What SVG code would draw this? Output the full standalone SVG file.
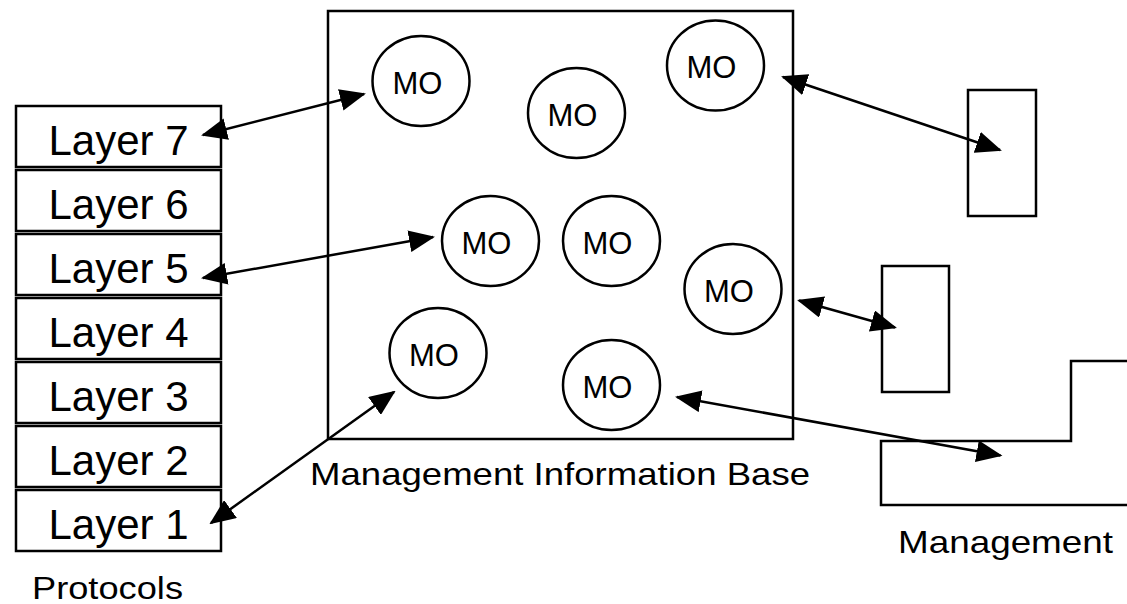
<svg xmlns="http://www.w3.org/2000/svg" width="1127" height="604" viewBox="0 0 1127 604">
<style>
.s{fill:#fff;stroke:#000;stroke-width:2.5}
.n{fill:none;stroke:#000;stroke-width:2.5}
.t{font-family:"Liberation Sans",Arial,sans-serif;fill:#000}
.lt{font-size:42px;text-anchor:middle}
.mo{font-size:31px;text-anchor:middle}
.lb{font-size:32px}
.c{fill:none;stroke:#000;stroke-width:2.5}
</style>
<defs>
<marker id="ah" markerUnits="userSpaceOnUse" markerWidth="26" markerHeight="22" viewBox="0 0 26 22" refX="24" refY="11" orient="auto-start-reverse">
<path d="M0,0 L26,11 L0,22 Z" fill="#000"/>
</marker>
</defs>
<rect width="1127" height="604" fill="#fff"/>
<g id="protocols">
<g id="layer7"><rect class="s" x="16" y="106" width="205" height="61"/><text class="t lt" x="118.5" y="155">Layer 7</text></g>
<g id="layer6"><rect class="s" x="16" y="170" width="205" height="61"/><text class="t lt" x="118.5" y="219">Layer 6</text></g>
<g id="layer5"><rect class="s" x="16" y="234" width="205" height="61"/><text class="t lt" x="118.5" y="283">Layer 5</text></g>
<g id="layer4"><rect class="s" x="16" y="298" width="205" height="61"/><text class="t lt" x="118.5" y="347">Layer 4</text></g>
<g id="layer3"><rect class="s" x="16" y="362" width="205" height="61"/><text class="t lt" x="118.5" y="411">Layer 3</text></g>
<g id="layer2"><rect class="s" x="16" y="426" width="205" height="61"/><text class="t lt" x="118.5" y="475">Layer 2</text></g>
<g id="layer1"><rect class="s" x="16" y="490" width="205" height="61"/><text class="t lt" x="118.5" y="539">Layer 1</text></g>
<text class="t lb" x="32" y="599" textLength="151" lengthAdjust="spacingAndGlyphs">Protocols</text>
</g>
<g id="mib">
<rect class="s" x="328" y="11" width="465" height="428"/>
<text class="t lb" x="310" y="485" textLength="500" lengthAdjust="spacingAndGlyphs">Management Information Base</text>
</g>
<g id="mo1"><ellipse class="s" cx="421" cy="81" rx="48.5" ry="45"/><text class="t mo" x="417.5" y="93.5">MO</text></g>
<g id="mo2"><ellipse class="s" cx="576.5" cy="113" rx="48.5" ry="45"/><text class="t mo" x="572.5" y="125.5">MO</text></g>
<g id="mo3"><ellipse class="s" cx="715.5" cy="65.5" rx="48.5" ry="45"/><text class="t mo" x="711.5" y="78">MO</text></g>
<g id="mo4"><ellipse class="s" cx="490.5" cy="241" rx="48.5" ry="45"/><text class="t mo" x="486.5" y="253.5">MO</text></g>
<g id="mo5"><ellipse class="s" cx="611.5" cy="241" rx="48.5" ry="45"/><text class="t mo" x="607.5" y="253.5">MO</text></g>
<g id="mo6"><ellipse class="s" cx="733" cy="289" rx="48.5" ry="45"/><text class="t mo" x="729" y="301.5">MO</text></g>
<g id="mo7"><ellipse class="s" cx="438" cy="353" rx="48.5" ry="45"/><text class="t mo" x="434" y="365.5">MO</text></g>
<g id="mo8"><ellipse class="s" cx="611.5" cy="385" rx="48.5" ry="45"/><text class="t mo" x="607.5" y="397.5">MO</text></g>
<g id="mgr1"><rect class="s" x="968" y="90" width="68" height="126"/></g>
<g id="mgr2"><rect class="s" x="882" y="266" width="67" height="126"/></g>
<g id="mgr3">
<path class="n" d="M1130,361 H1071 V441 H881 V505 H1130"/>
<text class="t lb" x="898" y="553" textLength="215" lengthAdjust="spacingAndGlyphs">Management</text>
</g>
<g id="connectors">
<line class="c" x1="203" y1="135" x2="364" y2="94" marker-start="url(#ah)" marker-end="url(#ah)"/>
<line class="c" x1="783" y1="77" x2="1000" y2="150" marker-start="url(#ah)" marker-end="url(#ah)"/>
<line class="c" x1="203" y1="278" x2="433" y2="237" marker-start="url(#ah)" marker-end="url(#ah)"/>
<line class="c" x1="799" y1="300.5" x2="895" y2="327.5" marker-start="url(#ah)" marker-end="url(#ah)"/>
<line class="c" x1="211" y1="523" x2="394" y2="392" marker-start="url(#ah)" marker-end="url(#ah)"/>
<line class="c" x1="677" y1="397" x2="1000.5" y2="455.5" marker-start="url(#ah)" marker-end="url(#ah)"/>
</g>
</svg>
